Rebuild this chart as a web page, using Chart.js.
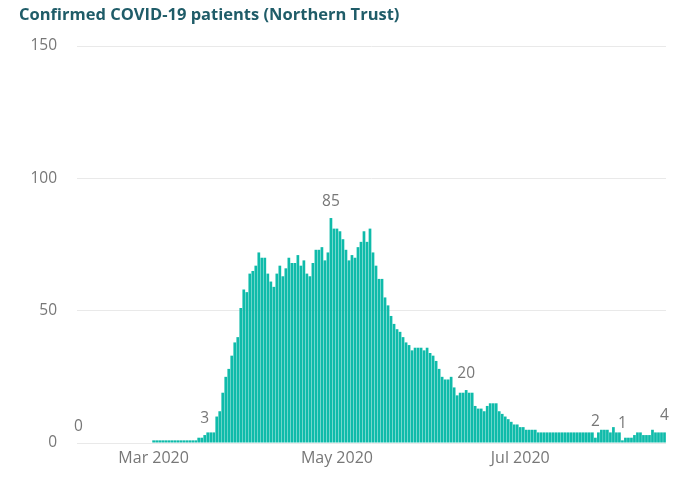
<!DOCTYPE html>
<html>
<head>
<meta charset="utf-8">
<script src="https://cdn.jsdelivr.net/npm/chart.js@4/dist/chart.umd.min.js"></script>
<style>
  html, body { margin: 0; padding: 0; background: #fff; }
  #wrap { width: 673px; height: 489px; }
</style>
</head>
<body>
<div id="wrap"><canvas id="patientsChart"></canvas></div>
<script>
// Daily confirmed COVID-19 inpatients, Northern Trust
const startDate = '2020-02-05';
const monthTicks = { '2020-03-01': 'Mar 2020', '2020-05-01': 'May 2020', '2020-07-01': 'Jul 2020' };

// 5 Feb - 29 Feb
const febValues = [0, 0, 0, 0, 0, 0, 0, 0, 0, 0, 0, 0, 0, 0, 0, 0, 0, 0, 0, 0, 0, 0, 0, 0, 0];

// 1 Mar onwards
const patients = [
  1, 1, 1, 1, 1, 1, 1, 1, 1, 1, 1, 1, 1, 1, 1, 2, 2, 3, 4, 4,
  4, 10, 12, 19, 25, 28, 33, 38, 40, 51, 58, 57, 64, 65, 67, 72, 70, 70, 64, 61,
  59, 64, 67, 63, 66, 70, 68, 68, 71, 67, 69, 64, 63, 68, 73, 73, 74, 69, 72, 85,
  81, 81, 80, 77, 73, 69, 71, 70, 74, 76, 80, 76, 81, 72, 67, 62, 62, 55, 52, 48,
  45, 43, 42, 40, 38, 37, 35, 36, 36, 36, 35, 36, 34, 33, 31, 28, 25, 24, 24, 25,
  21, 18, 19, 19, 20, 19, 19, 14, 13, 13, 12, 14, 15, 15, 15, 12, 11, 10, 9, 8,
  7, 7, 6, 6, 5, 5, 5, 5, 4, 4, 4, 4, 4, 4, 4, 4, 4, 4, 4, 4,
  4, 4, 4, 4, 4, 4, 4, 2, 4, 5, 5, 5, 4, 6, 4, 4, 1, 2, 2, 2,
  3, 4, 4, 3, 3, 3, 5, 4, 4, 4, 4
];

// points that carry a value label (index in the full series)
const labelledPoints = [0, 42, 84, 129, 172, 181, 195];

const values = febValues.concat(patients);
const dates = [];
const d0 = new Date(startDate + 'T00:00:00Z');
for (let i = 0; i < values.length; i++) {
  const d = new Date(d0.getTime() + i * 86400000);
  dates.push(d.toISOString().slice(0, 10));
}

const textGrey = '#777777';
const fontFamily = '"Open Sans", sans-serif';

const titlePlugin = {
  id: 'titleText',
  afterDraw(chart) {
    const ctx = chart.ctx;
    ctx.save();
    ctx.font = 'bold 16.5px ' + fontFamily;
    ctx.fillStyle = '#1f5c68';
    ctx.textAlign = 'left';
    ctx.textBaseline = 'alphabetic';
    ctx.fillText('Confirmed COVID-19 patients (Northern Trust)', 19, 20);
    ctx.restore();
  }
};

const valueLabels = {
  id: 'valueLabels',
  afterDatasetsDraw(chart) {
    const ctx = chart.ctx;
    const meta = chart.getDatasetMeta(0);
    ctx.save();
    ctx.font = '15.5px ' + fontFamily;
    ctx.fillStyle = textGrey;
    ctx.textAlign = 'center';
    ctx.textBaseline = 'alphabetic';
    labelledPoints.forEach(i => {
      const bar = meta.data[i];
      ctx.fillText(String(values[i]), bar.x, bar.y - 12);
    });
    ctx.restore();
  }
};

const ctx = document.getElementById('patientsChart').getContext('2d');
const patientsChart = new Chart(ctx, {
  type: 'bar',
  data: {
    labels: dates,
    datasets: [{
      label: 'Confirmed COVID-19 patients',
      data: values,
      backgroundColor: '#0fbbaa',
      borderWidth: 0,
      barPercentage: 0.9,
      categoryPercentage: 1.0
    }]
  },
  options: {
    responsive: true,
    maintainAspectRatio: false,
    animation: false,
    layout: { padding: { top: 46, right: 7, left: 0, bottom: 0 } },
    plugins: {
      legend: { display: false },
      tooltip: { enabled: false }
    },
    scales: {
      x: {
        grid: { display: false, drawTicks: false },
        border: { display: false },
        ticks: {
          autoSkip: false,
          maxRotation: 0,
          padding: 6,
          color: textGrey,
          font: { family: fontFamily, size: 16 },
          callback: (v, i) => monthTicks[dates[i]] || ''
        },
        afterFit: s => { s.height = 46; }
      },
      y: {
        min: 0,
        max: 150,
        grid: { color: '#e9e9e9', drawTicks: false },
        border: { display: false },
        ticks: {
          stepSize: 50,
          padding: 20,
          color: textGrey,
          font: { family: fontFamily, size: 15.5 }
        },
        afterFit: s => { s.width = 77; }
      }
    }
  },
  plugins: [titlePlugin, valueLabels]
});
</script>
</body>
</html>
